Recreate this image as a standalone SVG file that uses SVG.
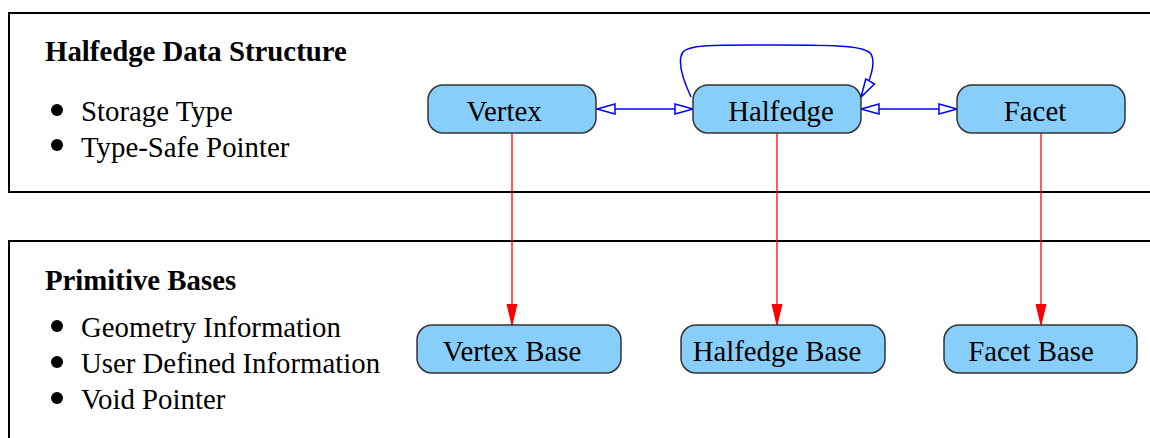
<svg xmlns="http://www.w3.org/2000/svg" width="1150" height="438" viewBox="0 0 1150 438">
  <style>
    .frame { fill: none; stroke: #000; stroke-width: 2; }
    .node rect { fill: #87cefa; stroke: #333; stroke-width: 1.5; }
    .label { font-family: "Liberation Serif", "Times New Roman", serif; font-size: 28.8px; fill: #000; }
    .title { font-family: "Liberation Serif", "Times New Roman", serif; font-size: 28.8px; font-weight: bold; fill: #000; }
    .mid { text-anchor: middle; }
    .assoc { fill: none; stroke: #0000ff; stroke-width: 1.5; }
    .inherit { fill: none; stroke: #ff0000; stroke-width: 1.3; }
  </style>
  <defs>
    <marker id="openEnd" viewBox="0 0 20 12" refX="19" refY="6" markerWidth="20" markerHeight="12" markerUnits="userSpaceOnUse" orient="auto">
      <path d="M1,1 L19,6 L1,11 Z" fill="#fff" stroke="#0000ff" stroke-width="1.5"/>
    </marker>
    <marker id="openStart" viewBox="0 0 20 12" refX="1" refY="6" markerWidth="20" markerHeight="12" markerUnits="userSpaceOnUse" orient="auto">
      <path d="M19,1 L1,6 L19,11 Z" fill="#fff" stroke="#0000ff" stroke-width="1.5"/>
    </marker>
    <marker id="solidEnd" viewBox="0 0 22 12" refX="21" refY="6" markerWidth="22" markerHeight="12" markerUnits="userSpaceOnUse" orient="auto">
      <path d="M0,1 L21,6 L0,11 Z" fill="#ff0000" stroke="#ff0000" stroke-width="1"/>
    </marker>
  </defs>

  <!-- layer frames -->
  <g id="layer-hds">
    <path class="frame" d="M1160,13 H9 V192 H1160"/>
    <text class="title" x="45" y="61">Halfedge Data Structure</text>
    <circle cx="57" cy="110" r="6"/>
    <text class="label" x="81" y="121">Storage Type</text>
    <circle cx="57" cy="145" r="6"/>
    <text class="label" x="81" y="157">Type-Safe Pointer</text>
  </g>
  <g id="layer-bases">
    <path class="frame" d="M1160,241 H9 V450"/>
    <text class="title" x="45" y="290">Primitive Bases</text>
    <circle cx="57" cy="326" r="6"/>
    <text class="label" x="81" y="337">Geometry Information</text>
    <circle cx="57" cy="362" r="6"/>
    <text class="label" x="81" y="373">User Defined Information</text>
    <circle cx="57" cy="398" r="6"/>
    <text class="label" x="81" y="409">Void Pointer</text>
  </g>

  <!-- connectors -->
  <g id="connectors">
    <line class="assoc" x1="597" y1="109" x2="693" y2="109" marker-start="url(#openStart)" marker-end="url(#openEnd)"/>
    <line class="assoc" x1="861" y1="109" x2="957" y2="109" marker-start="url(#openStart)" marker-end="url(#openEnd)"/>
    <path class="assoc" d="M691,97 C684,82 676,62 683,52 C690,44 720,45 777,45 C840,45 865,46 871,54 C876,62 871,80 861,97" marker-end="url(#openEnd)"/>
    <line class="inherit" x1="512" y1="133" x2="512" y2="325" marker-end="url(#solidEnd)"/>
    <line class="inherit" x1="777" y1="133" x2="777" y2="325" marker-end="url(#solidEnd)"/>
    <line class="inherit" x1="1041" y1="133" x2="1041" y2="325" marker-end="url(#solidEnd)"/>
  </g>

  <!-- nodes -->
  <g id="vertex" class="node">
    <rect x="428" y="85" width="168" height="48" rx="15"/>
    <text class="label mid" x="504" y="121">Vertex</text>
  </g>
  <g id="halfedge" class="node">
    <rect x="693" y="85" width="168" height="48" rx="15"/>
    <text class="label mid" x="781" y="121">Halfedge</text>
  </g>
  <g id="facet" class="node">
    <rect x="957" y="85" width="168" height="48" rx="15"/>
    <text class="label mid" x="1035" y="121">Facet</text>
  </g>
  <g id="vertex-base" class="node">
    <rect x="417" y="325" width="204" height="48" rx="15"/>
    <text class="label mid" x="512" y="361">Vertex Base</text>
  </g>
  <g id="halfedge-base" class="node">
    <rect x="681" y="325" width="204" height="48" rx="15"/>
    <text class="label mid" x="777" y="361">Halfedge Base</text>
  </g>
  <g id="facet-base" class="node">
    <rect x="944" y="325" width="193" height="48" rx="15"/>
    <text class="label mid" x="1031" y="361">Facet Base</text>
  </g>
</svg>
